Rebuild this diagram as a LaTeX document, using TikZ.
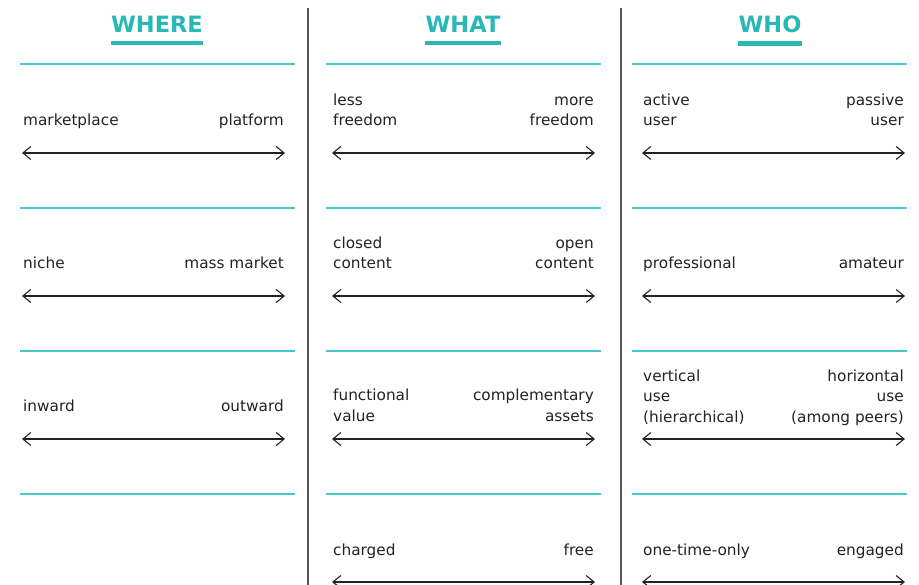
\documentclass[tikz,border=0pt]{standalone}
\usepackage{fontspec}
\setmainfont{DejaVu Sans}
\usepackage{xcolor}
\usepackage{tikz}
\usetikzlibrary{arrows.meta}

\definecolor{tealhd}{RGB}{41,184,182}
\definecolor{tealln}{RGB}{70,200,204}
\definecolor{ink}{RGB}{34,34,34}
\definecolor{divgray}{RGB}{88,88,88}

\begin{document}
\begin{tikzpicture}[x=1pt, y=-1pt,
  hd/.style={font=\fontsize{22.5}{26}\selectfont\bfseries, text=tealhd,
             inner sep=0pt, anchor=base},
  lbl/.style={font=\fontsize{15.3}{20.3}\selectfont, text=ink, inner sep=0pt},
  lft/.style={lbl, align=left, anchor=base west},
  rgt/.style={lbl, align=right, anchor=base east},
  rule/.style={tealln, line width=1.3pt},
  bar/.style={tealhd, line width=4.5pt},
  divider/.style={divgray, line width=2pt},
  span/.style={{Straight Barb[length=8pt,width=13pt]}-{Straight Barb[length=8pt,width=13pt]},
               line width=1.1pt, ink}]
\useasboundingbox (0,0) rectangle (919,585);

% column dividers
\draw[divider] (308,8) -- (308,585);
\draw[divider] (621,8) -- (621,585);

% headings with their underline bars (base anchor = last line)
\node[hd] (where) at (157,33) {WHERE};
\node[hd] (what)  at (463,33) {WHAT};
\node[hd] (who)   at (770,33) {WHO};
\draw[bar] ([yshift=-10pt]where.south west) -- ([yshift=-10pt]where.south east);
\draw[bar] ([yshift=-10pt]what.south west) -- ([yshift=-10pt]what.south east);
\draw[bar] ([yshift=-10pt]who.south west) -- ([yshift=-10pt]who.south east);

% thin rules between the rows
\draw[rule] (20,64) -- (295,64)   (326,64) -- (601,64)   (632,64) -- (907,64);
\draw[rule] (20,208) -- (295,208) (326,208) -- (601,208) (632,208) -- (907,208);
\draw[rule] (20,351) -- (295,351) (326,351) -- (601,351) (632,351) -- (907,351);
\draw[rule] (20,494) -- (295,494) (326,494) -- (601,494) (632,494) -- (907,494);

% WHERE
\node[lft] (mkt)  at (23,126)  {marketplace};
\node[rgt] (plat) at (284,126) {platform};
\node[lft] (nic)  at (23,269)  {niche};
\node[rgt] (mass) at (284,269) {mass market};
\node[lft] (inw)  at (23,412)  {inward};
\node[rgt] (outw) at (284,412) {outward};
\coordinate (w1a) at (22,153);  \coordinate (w1b) at (285,153);
\coordinate (w2a) at (22,296);  \coordinate (w2b) at (285,296);
\coordinate (w3a) at (22,439);  \coordinate (w3b) at (285,439);
\draw[span] (w1a) -- (w1b);
\draw[span] (w2a) -- (w2b);
\draw[span] (w3a) -- (w3b);

% WHAT
\node[lft] (less) at (333,126) {less\\freedom};
\node[rgt] (more) at (594,126) {more\\freedom};
\node[lft] (clos) at (333,269) {closed\\content};
\node[rgt] (open) at (594,269) {open\\content};
\node[lft] (func) at (333,421) {functional\\value};
\node[rgt] (comp) at (594,421) {complementary\\assets};
\node[lft] (chrg) at (333,555) {charged};
\node[rgt] (free) at (594,555) {free};
\coordinate (h1a) at (332,153); \coordinate (h1b) at (595,153);
\coordinate (h2a) at (332,296); \coordinate (h2b) at (595,296);
\coordinate (h3a) at (332,439); \coordinate (h3b) at (595,439);
\coordinate (h4a) at (332,582); \coordinate (h4b) at (595,582);
\draw[span] (h1a) -- (h1b);
\draw[span] (h2a) -- (h2b);
\draw[span] (h3a) -- (h3b);
\draw[span] (h4a) -- (h4b);

% WHO
\node[lft] (actv) at (643,126) {active\\user};
\node[rgt] (pasv) at (904,126) {passive\\user};
\node[lft] (prof) at (643,269) {professional};
\node[rgt] (amat) at (904,269) {amateur};
\node[lft] (vert) at (643,422) {vertical\\use\\(hierarchical)};
\node[rgt] (horz) at (904,422) {horizontal\\use\\(among peers)};
\node[lft] (once) at (643,555) {one-time-only};
\node[rgt] (enga) at (904,555) {engaged};
\coordinate (o1a) at (642,153); \coordinate (o1b) at (905,153);
\coordinate (o2a) at (642,296); \coordinate (o2b) at (905,296);
\coordinate (o3a) at (642,439); \coordinate (o3b) at (905,439);
\coordinate (o4a) at (642,582); \coordinate (o4b) at (905,582);
\draw[span] (o1a) -- (o1b);
\draw[span] (o2a) -- (o2b);
\draw[span] (o3a) -- (o3b);
\draw[span] (o4a) -- (o4b);
\end{tikzpicture}
\end{document}
